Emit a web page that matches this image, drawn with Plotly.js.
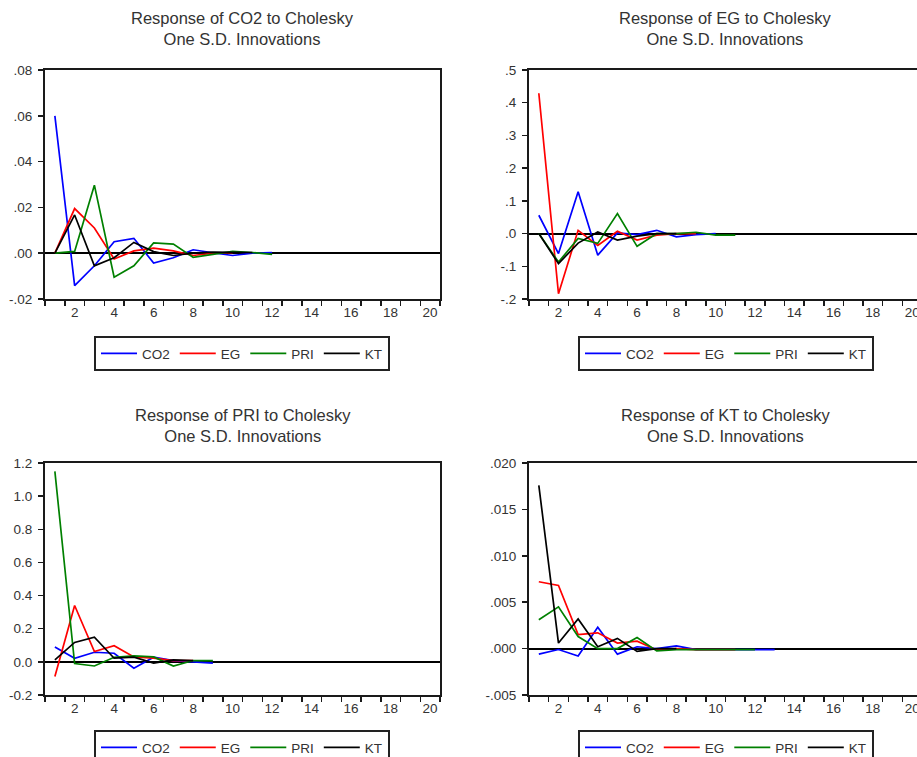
<!DOCTYPE html>
<html>
<head>
<meta charset="utf-8">
<script src="https://cdn.plot.ly/plotly-3.0.1.min.js"></script>
<style>
html, body { margin: 0; padding: 0; overflow: hidden; background: #fff; width: 917px; height: 757px; }
#chart { width: 930px; height: 785px; }
</style>
</head>
<body>
<div id="chart"></div>
<script>
// ---------- DATA ----------
const periods = [1, 2, 3, 4, 5, 6, 7, 8, 9, 10, 11, 12, 13];
const seriesNames = ["CO2", "EG", "PRI", "KT"];
const seriesColors = ["#0000ff", "#ff0000", "#008000", "#000000"];
const xTickVals = [2, 4, 6, 8, 10, 12, 14, 16, 18, 20];
const xTickText = ["2", "4", "6", "8", "10", "12", "14", "16", "18", "20"];

// Response of CO2
const r1_CO2 = [0.060, -0.0142, -0.0055, 0.005, 0.0065, -0.0043, -0.002, 0.0015, 0.0002, -0.001, 0.0, 0.0003];
const r1_EG  = [0.0, 0.0195, 0.011, -0.0025, 0.001, 0.0022, 0.001, -0.001, 0.0, 0.0002];
const r1_PRI = [0.0, 0.0008, 0.0297, -0.0105, -0.0055, 0.0045, 0.004, -0.0018, -0.0005, 0.0008, 0.0003, -0.0005];
const r1_KT  = [0.0, 0.0167, -0.0055, -0.002, 0.0047, 0.0007, -0.001, 0.0, 0.0005, 0.0004, 0.0003];
const r1_ticks = [-0.02, 0.0, 0.02, 0.04, 0.06, 0.08];
const r1_tickText = ["-.02", ".00", ".02", ".04", ".06", ".08"];

// Response of EG
const r2_CO2 = [0.056, -0.061, 0.128, -0.066, 0.002, -0.003, 0.01, -0.01, -0.003, 0.0];
const r2_EG  = [0.429, -0.184, 0.01, -0.036, 0.007, -0.02, -0.005, 0.0, 0.0];
const r2_PRI = [0.0, -0.087, -0.015, -0.03, 0.061, -0.039, 0.0, 0.0, 0.004, -0.005, -0.005];
const r2_KT  = [0.0, -0.092, -0.029, 0.005, -0.02, -0.008, 0.0, 0.0];
const r2_ticks = [-0.2, -0.1, 0.0, 0.1, 0.2, 0.3, 0.4, 0.5];
const r2_tickText = ["-.2", "-.1", ".0", ".1", ".2", ".3", ".4", ".5"];

// Response of PRI
const r3_CO2 = [0.089, 0.022, 0.058, 0.052, -0.038, 0.028, 0.008, 0.0, -0.008];
const r3_EG  = [-0.088, 0.34, 0.062, 0.097, 0.03, 0.022, 0.008, 0.008];
const r3_PRI = [1.149, -0.01, -0.025, 0.028, 0.036, 0.03, -0.025, 0.008, 0.008];
const r3_KT  = [0.012, 0.117, 0.149, 0.022, 0.028, -0.008, 0.012, 0.008];
const r3_ticks = [-0.2, 0.0, 0.2, 0.4, 0.6, 0.8, 1.0, 1.2];
const r3_tickText = ["-0.2", "0.0", "0.2", "0.4", "0.6", "0.8", "1.0", "1.2"];

// Response of KT
const r4_CO2 = [-0.0006, -0.0001, -0.0008, 0.0023, -0.0006, 0.0002, 0.0, 0.0003, -0.0001, -0.0001, -0.0001, -0.0001, -0.0001];
const r4_EG  = [0.0072, 0.0068, 0.0015, 0.0017, 0.0006, 0.0008, -0.00015, 0.0, -0.0001, -0.0001, -0.0001];
const r4_PRI = [0.0031, 0.0045, 0.0013, 0.0, 0.0, 0.0012, -0.00025, -0.0001, -0.0001, -0.0001, -0.0001, -0.0001];
const r4_KT  = [0.0176, 0.0006, 0.0032, 0.0002, 0.0011, -0.0003, 0.0, 0.0];
const r4_ticks = [-0.005, 0.0, 0.005, 0.010, 0.015, 0.020];
const r4_tickText = ["-.005", ".000", ".005", ".010", ".015", ".020"];

const panelTitles = [
  "Response of CO2 to Cholesky<br>One S.D. Innovations",
  "Response of EG to Cholesky<br>One S.D. Innovations",
  "Response of PRI to Cholesky<br>One S.D. Innovations",
  "Response of KT to Cholesky<br>One S.D. Innovations"
];

// ---------- LAYOUT HELPERS ----------
const W = 930, H = 785;
const px = v => v / W;
const py = v => 1 - v / H;

const panels = [
  { data: [r1_CO2, r1_EG, r1_PRI, r1_KT], yr: [-0.02, 0.08], tv: r1_ticks, tt: r1_tickText, x0: 45, x1: 440, y0: 70, y1: 299, titleY: 29, legY: 336, legCx: 242 },
  { data: [r2_CO2, r2_EG, r2_PRI, r2_KT], yr: [-0.2, 0.5], tv: r2_ticks, tt: r2_tickText, x0: 529, x1: 922, y0: 70, y1: 299, titleY: 29, legY: 336, legCx: 726 },
  { data: [r3_CO2, r3_EG, r3_PRI, r3_KT], yr: [-0.2, 1.2], tv: r3_ticks, tt: r3_tickText, x0: 45, x1: 440, y0: 463, y1: 695, titleY: 425, legY: 730, legCx: 242 },
  { data: [r4_CO2, r4_EG, r4_PRI, r4_KT], yr: [-0.005, 0.020], tv: r4_ticks, tt: r4_tickText, x0: 529, x1: 922, y0: 463, y1: 695, titleY: 425, legY: 730, legCx: 726 }
];

const FONT = "Liberation Sans, Arial, sans-serif";
const TXT = "#333333";
const AX = "#1a1a1a";
const halfTicks = [];
for (let i = 0; i <= 20; i++) halfTicks.push(i + 0.5);

const traces = [];
const layout = {
  width: W, height: H,
  margin: { l: 0, r: 0, t: 0, b: 0 },
  paper_bgcolor: "#ffffff",
  plot_bgcolor: "#ffffff",
  font: { family: FONT, size: 13, color: TXT },
  annotations: [],
  showlegend: true
};

panels.forEach((p, k) => {
  const n = k + 1;
  const xa = n === 1 ? "x" : "x" + n;
  const ya = n === 1 ? "y" : "y" + n;
  const leg = n === 1 ? "legend" : "legend" + n;
  p.data.forEach((vals, s) => {
    traces.push({
      type: "scatter", mode: "lines",
      x: periods.slice(0, vals.length), y: vals,
      name: seriesNames[s],
      line: { color: seriesColors[s], width: 1.7 },
      xaxis: xa, yaxis: ya, legend: leg,
      hoverinfo: "skip"
    });
  });
  layout[n === 1 ? "xaxis" : "xaxis" + n] = {
    domain: [px(p.x0), px(p.x1)],
    range: [0.5, 20.5],
    anchor: ya,
    tickmode: "array", tickvals: xTickVals, ticktext: xTickText,
    ticks: "", showgrid: false, zeroline: false,
    showline: true, linecolor: AX, linewidth: 2, mirror: true,
    tickfont: { family: FONT, size: 13.5, color: TXT },
    minor: { tickmode: "array", tickvals: halfTicks, ticks: "outside", ticklen: 5, tickwidth: 1.5, tickcolor: AX, showgrid: false }
  };
  layout[n === 1 ? "yaxis" : "yaxis" + n] = {
    domain: [py(p.y1), py(p.y0)],
    range: p.yr,
    anchor: xa,
    tickmode: "array", tickvals: p.tv, ticktext: p.tt,
    ticks: "outside", ticklen: 5, tickwidth: 1.5, tickcolor: AX,
    ticklabelstandoff: 3,
    showgrid: false,
    zeroline: true, zerolinecolor: "#000000", zerolinewidth: 2,
    showline: true, linecolor: AX, linewidth: 2, mirror: true,
    tickfont: { family: FONT, size: 13.5, color: TXT }
  };
  layout[leg] = {
    orientation: "h",
    x: px(p.legCx), xanchor: "center",
    y: py(p.legY), yanchor: "top",
    bordercolor: "#222222", borderwidth: 2,
    bgcolor: "#ffffff",
    font: { family: FONT, size: 13.5, color: TXT },
    itemclick: false, itemdoubleclick: false,
    tracegroupgap: 0, itemwidth: 36
  };
  layout.annotations.push({
    text: panelTitles[k],
    xref: "paper", yref: "paper",
    x: px((p.x0 + p.x1) / 2), y: py(p.titleY),
    xanchor: "center", yanchor: "middle",
    showarrow: false,
    font: { family: FONT, size: 16.5, color: TXT },
    align: "center"
  });
});

Plotly.newPlot("chart", traces, layout, { staticPlot: true, displayModeBar: false });
</script>
</body>
</html>
